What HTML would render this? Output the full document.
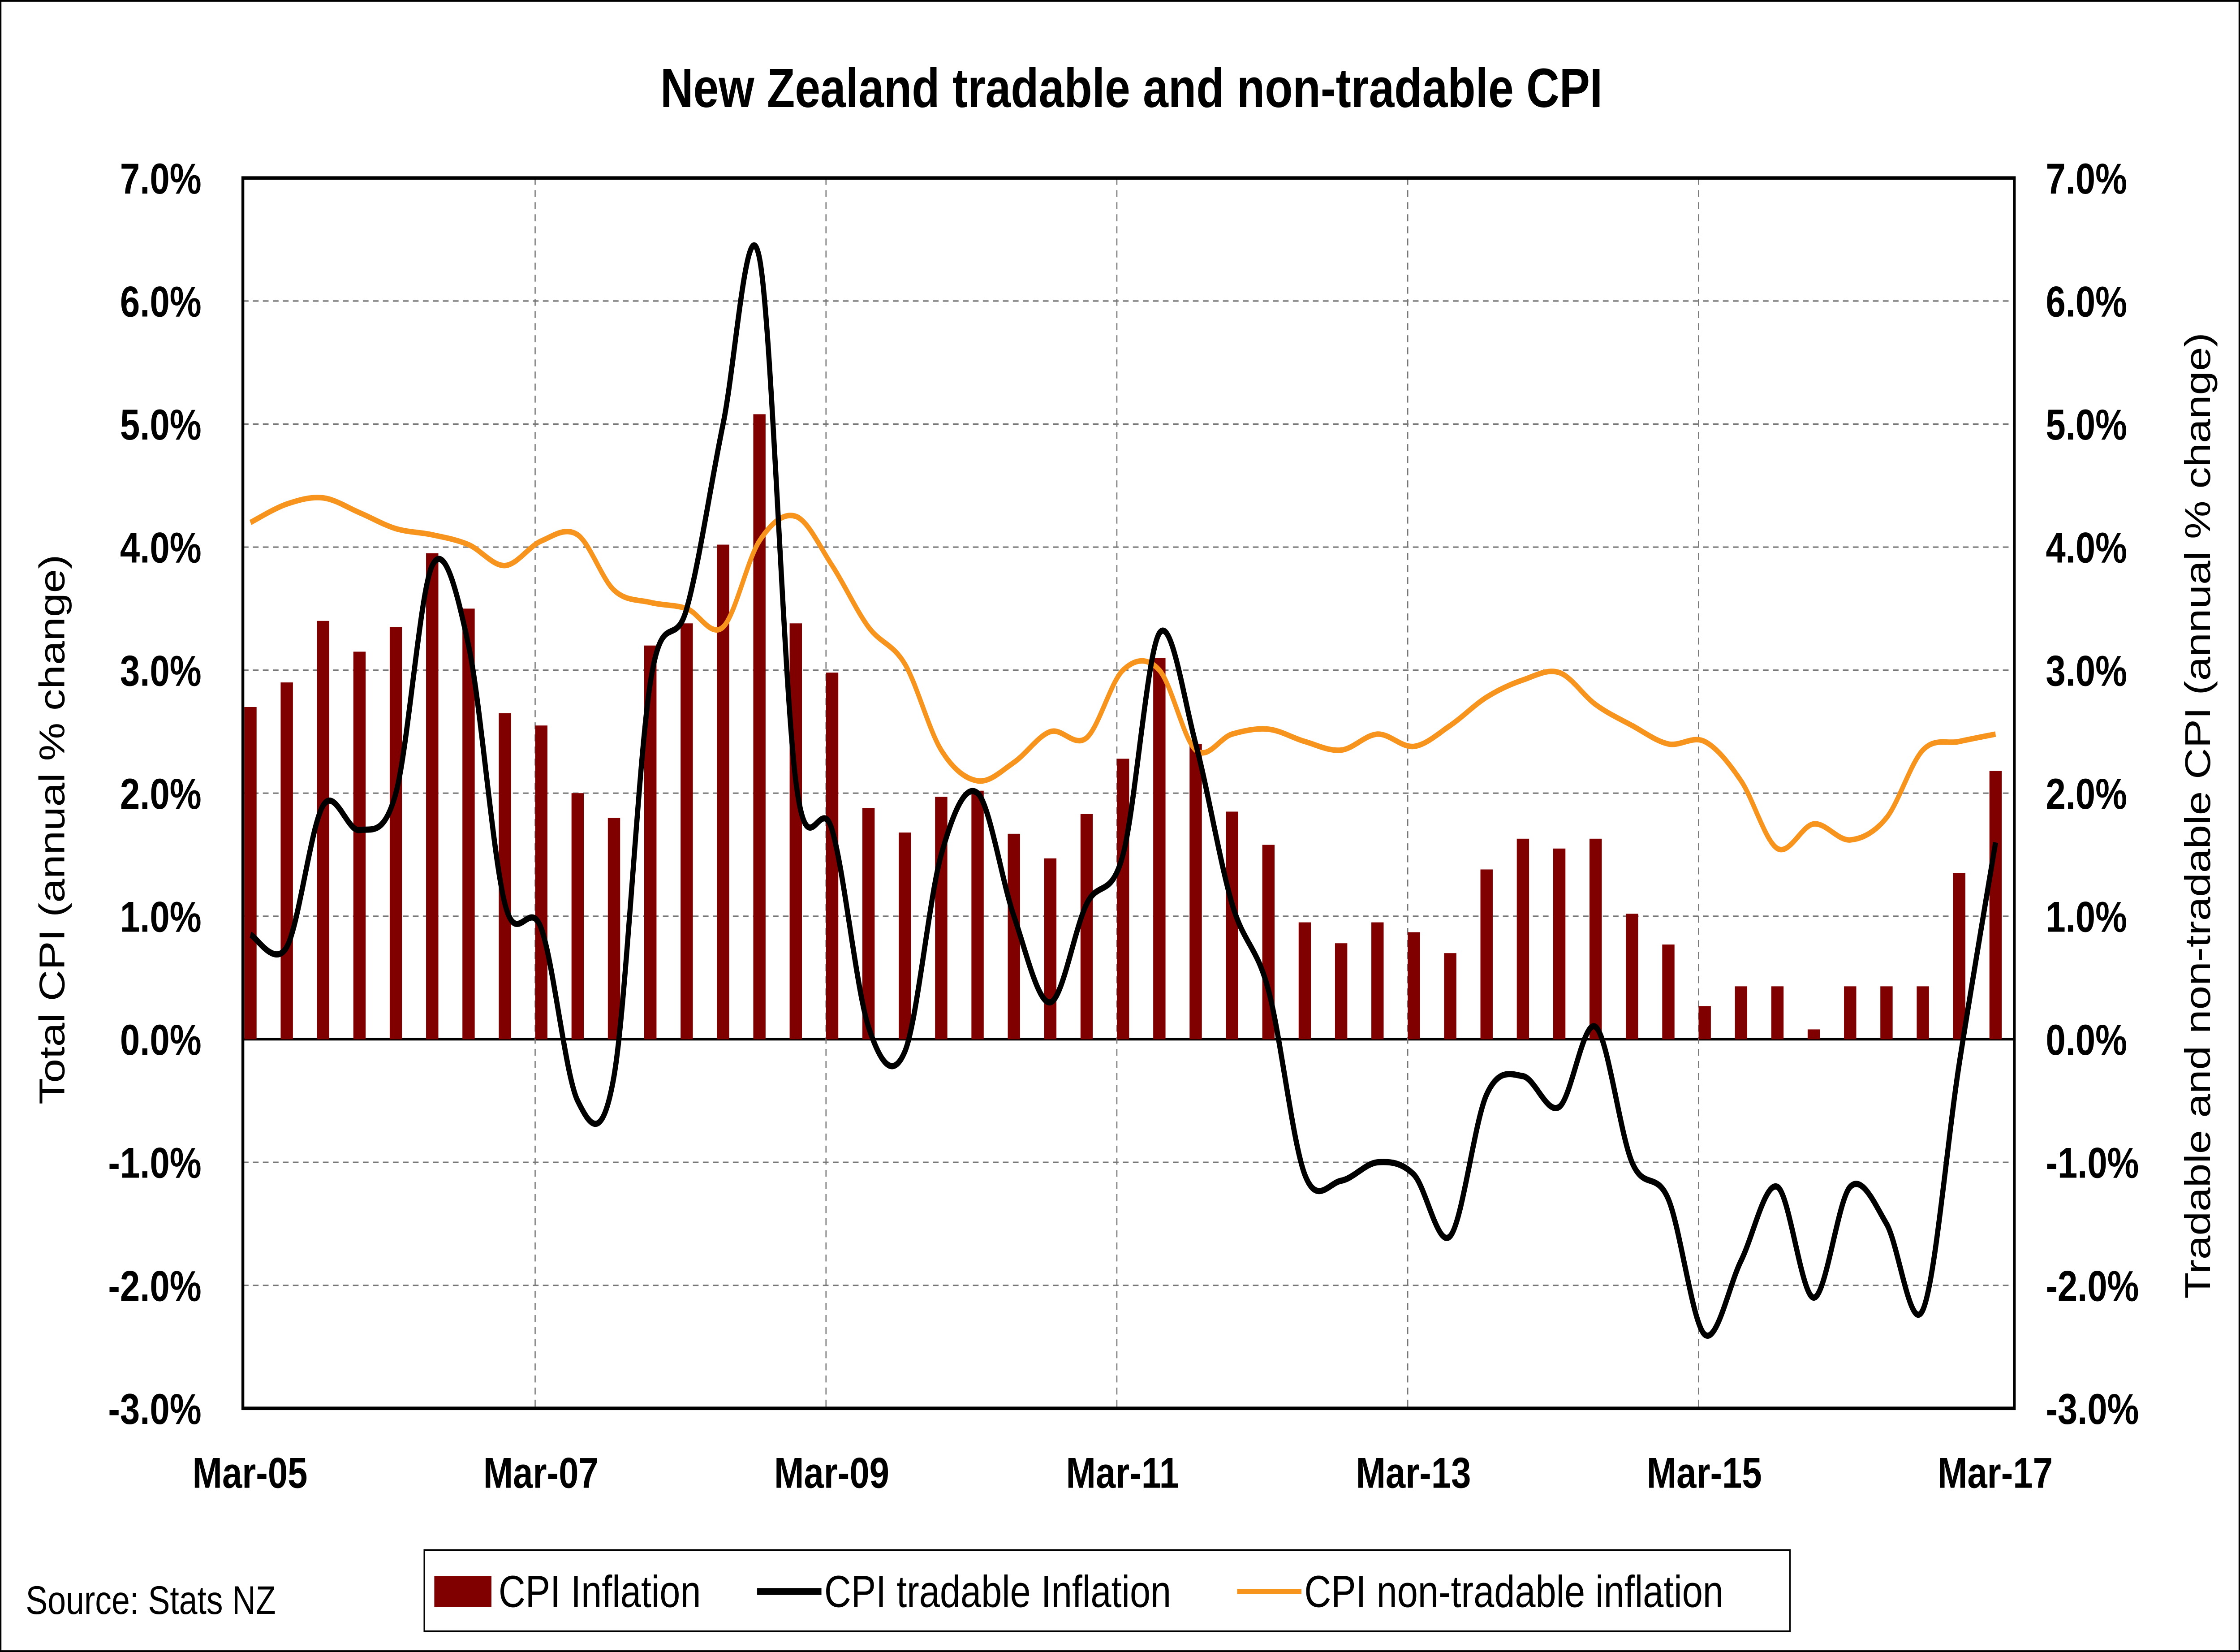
<!DOCTYPE html>
<html><head><meta charset="utf-8"><style>
html,body{margin:0;padding:0;background:#fff;width:100vw;height:100vh;overflow:hidden}
svg{display:block;position:absolute;left:0;top:0;width:100vw;height:100vh}
text{font-family:"Liberation Sans",Arial,sans-serif}
</style></head><body>
<svg id="chart" viewBox="0 0 1568 956" preserveAspectRatio="none" xmlns="http://www.w3.org/2000/svg">
<rect x="0.5" y="0.5" width="1567" height="955" fill="#fff" stroke="#000" stroke-width="1"/>
<text x="792" y="62" text-anchor="middle" font-size="32" font-weight="bold">New Zealand tradable and non-tradable CPI</text>
<g id="grid"></g>
<g id="bars"></g>
<g id="lines"></g>
<rect x="170" y="103" width="1240" height="712" fill="none" stroke="#000" stroke-width="2"/>
<g id="ticks"></g>
<text transform="translate(45,480) rotate(-90)" text-anchor="middle" font-size="25">Total CPI (annual % change)</text>
<text transform="translate(1547,472) rotate(-90)" text-anchor="middle" font-size="25">Tradable and non-tradable CPI (annual % change)</text>
<text x="18" y="934" font-size="23">Source: Stats NZ</text>
<g>
<rect x="297" y="897" width="956" height="47" fill="#fff" stroke="#000" stroke-width="1"/>
<rect x="304" y="912" width="40" height="18" fill="#800000"/>
<text x="349" y="930" font-size="26">CPI Inflation</text>
<line x1="530" y1="921" x2="575" y2="921" stroke="#000" stroke-width="4"/>
<text x="577" y="930" font-size="26">CPI tradable Inflation</text>
<line x1="866" y1="921" x2="911" y2="921" stroke="#f7941d" stroke-width="3"/>
<text x="913" y="930" font-size="26">CPI non-tradable inflation</text>
</g>
</svg>
<script>
const cpi=[2.7,2.9,3.4,3.15,3.35,3.95,3.5,2.65,2.55,2.0,1.8,3.2,3.38,4.02,5.08,3.38,2.98,1.88,1.68,1.97,2.02,1.67,1.47,1.83,2.28,3.1,2.4,1.85,1.58,0.95,0.78,0.95,0.87,0.7,1.38,1.63,1.55,1.63,1.02,0.77,0.27,0.43,0.43,0.08,0.43,0.43,0.43,1.35,2.18];
const tradable=[0.85,0.75,1.9,1.7,2.0,3.85,3.2,1.1,0.9,-0.5,-0.3,2.9,3.5,5.0,6.35,2.1,1.7,0.1,-0.1,1.5,2.0,1.0,0.3,1.1,1.5,3.3,2.4,1.1,0.4,-1.1,-1.15,-1.0,-1.1,-1.6,-0.45,-0.3,-0.55,0.1,-1.0,-1.3,-2.4,-1.8,-1.2,-2.1,-1.2,-1.5,-2.2,-0.2,1.6];
const nontradable=[4.2,4.35,4.4,4.28,4.15,4.1,4.02,3.85,4.05,4.1,3.65,3.55,3.5,3.35,4.05,4.25,3.85,3.35,3.05,2.35,2.1,2.25,2.5,2.45,3.0,3.0,2.35,2.48,2.52,2.42,2.35,2.48,2.38,2.55,2.78,2.92,2.98,2.72,2.55,2.4,2.42,2.1,1.55,1.75,1.62,1.8,2.35,2.42,2.48];
const yTicks=[7,6,5,4,3,2,1,0,-1,-2,-3];
const xLabels=["Mar-05","Mar-07","Mar-09","Mar-11","Mar-13","Mar-15","Mar-17"];
const xLabelIdx=[0,8,16,24,32,40,48];
const NS="http://www.w3.org/2000/svg";
const X0=170,STEP=25.45,BW=8.6;
function xs(i){return X0+1+STEP*i;}
function xc(i){return xs(i)+BW/2;}
function ys(v){return 103+(7-v)*71.2;}
function mk(t,a,p){const e=document.createElementNS(NS,t);for(const k in a)e.setAttribute(k,a[k]);p.appendChild(e);return e;}
const grid=document.getElementById('grid');
yTicks.forEach(v=>{if(v===7||v===-3)return;const l=mk('line',{x1:170,x2:1410,y1:ys(v),y2:ys(v),stroke:v===0?'#000':'#777','stroke-width':v===0?1.5:0.8,'stroke-dasharray':v===0?'none':'4 3'},grid);

});
xLabelIdx.forEach((i,k)=>{if(k===0||k===6)return;const l=mk('line',{x1:xs(i),x2:xs(i),y1:103,y2:815,stroke:'#777','stroke-width':0.8,'stroke-dasharray':'4 3'},grid);

});
const bars=document.getElementById('bars');
cpi.forEach((v,i)=>{const y=Math.min(ys(v),ys(0)),h=Math.abs(ys(v)-ys(0));const r=mk('rect',{x:xs(i),y:y,width:BW,height:h,fill:'#800000'},bars);

});
function path(d){const p=d.map((v,i)=>[xc(i),ys(v)]);let s='M'+p[0][0]+','+p[0][1];for(let i=0;i<p.length-1;i++){const a=p[i-1]||p[i],b=p[i],c=p[i+1],e=p[i+2]||c;const t=6;s+=' C'+(b[0]+(c[0]-a[0])/t)+','+(b[1]+(c[1]-a[1])/t)+' '+(c[0]-(e[0]-b[0])/t)+','+(c[1]-(e[1]-b[1])/t)+' '+c[0]+','+c[1];}return s;}
const lines=document.getElementById('lines');
const pn=mk('path',{d:path(nontradable),fill:'none',stroke:'#f7941d','stroke-width':3.2},lines);


const pt=mk('path',{d:path(tradable),fill:'none',stroke:'#000','stroke-width':3.6},lines);


const ticks=document.getElementById('ticks');
yTicks.forEach(v=>{const lab=v.toFixed(1)+'%';
const a=mk('text',{x:141,y:ys(v)+9,'text-anchor':'end','font-size':25,'font-weight':'bold'},ticks);a.textContent=lab;


const b=mk('text',{x:1432,y:ys(v)+9,'font-size':25,'font-weight':'bold'},ticks);b.textContent=lab;

});
xLabels.forEach((s,k)=>{const t=mk('text',{x:xs(xLabelIdx[k])+4,y:861,'text-anchor':'middle','font-size':25,'font-weight':'bold'},ticks);t.textContent=s;

});
</script>
</body></html>
